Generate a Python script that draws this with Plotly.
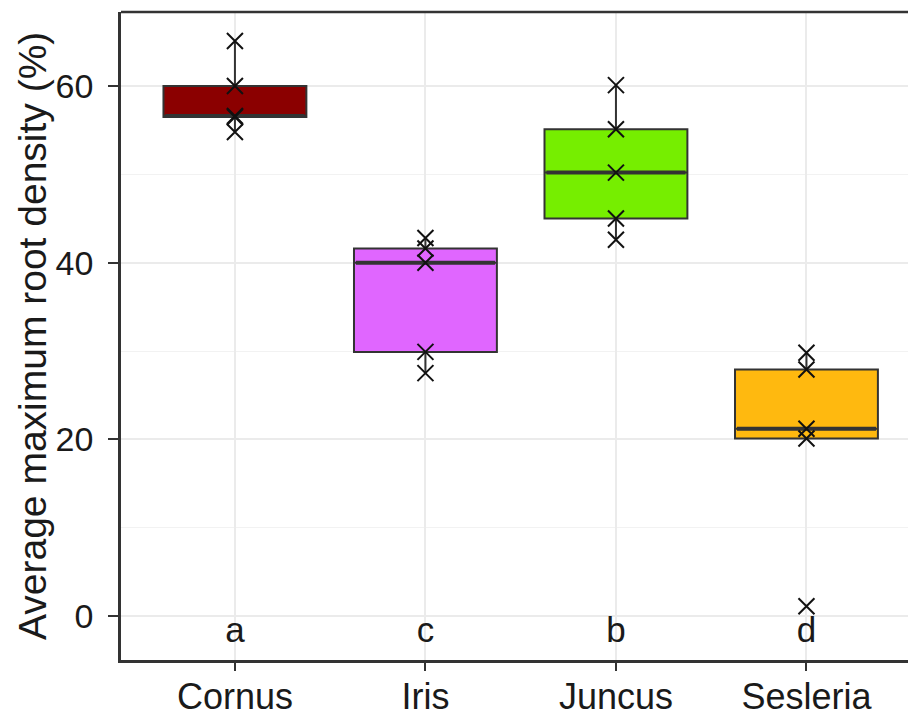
import numpy as np
import plotly.graph_objects as go

# ---- data ----
categories = ["Cornus", "Iris", "Juncus", "Sesleria"]
cornus = [65.1, 60.0, 56.6, 56.5, 54.8]
iris = [42.8, 41.6, 40.0, 29.9, 27.5]
juncus = [60.1, 55.1, 50.2, 45.0, 42.6]
sesleria = [29.8, 27.9, 21.2, 20.1, 1.1]
letters = ["a", "c", "b", "d"]
fill_colors = ["#8B0000", "#E066FF", "#76EE00", "#FFB90F"]
y_ticks = [0, 20, 40, 60]
y_minor = [10, 30, 50]
letter_y = -2
y_title = "Average maximum root density (%)"

series = [cornus, iris, juncus, sesleria]

FONT = "Liberation Sans, Arial, sans-serif"
LINE = "#333333"
BOX_W = 0.75

fig = go.Figure()

for i, (vals, col) in enumerate(zip(series, fill_colors)):
    v = np.array(vals, dtype=float)
    q1, med, q3 = np.percentile(v, [25, 50, 75])
    iqr = q3 - q1
    lo = v[v >= q1 - 1.5 * iqr].min()
    hi = v[v <= q3 + 1.5 * iqr].max()
    fig.add_trace(go.Box(
        x=[i], q1=[q1], median=[med], q3=[q3],
        lowerfence=[lo], upperfence=[hi],
        width=BOX_W, whiskerwidth=0,
        fillcolor=col, line=dict(color=LINE, width=2),
        boxpoints=False, showlegend=False, hoverinfo="skip",
    ))
    # thicker median line (ggplot style)
    fig.add_trace(go.Scatter(
        x=[i - BOX_W / 2 + 0.01, i + BOX_W / 2 - 0.01], y=[med, med],
        mode="lines", line=dict(color=LINE, width=4),
        showlegend=False, hoverinfo="skip",
    ))
    fig.add_trace(go.Scatter(
        x=[i] * len(v), y=v, mode="markers",
        marker=dict(symbol="x-thin", size=16,
                    line=dict(color="#111111", width=2)),
        showlegend=False, hoverinfo="skip",
    ))

fig.add_trace(go.Scatter(
    x=list(range(len(categories))), y=[letter_y] * len(categories),
    mode="text", text=letters,
    textfont=dict(family=FONT, size=35, color="#1a1a1a"),
    showlegend=False, hoverinfo="skip",
))

# page body has an 8px default margin, so the margins compensate for it
fig.update_layout(
    width=916, height=718,
    margin=dict(l=113, r=0, t=4, b=66),
    paper_bgcolor="white", plot_bgcolor="white",
    font=dict(family=FONT, color="#1a1a1a"),
)
fig.update_xaxes(
    automargin=False,
    range=[-0.598, 3.617],
    tickmode="array", tickvals=list(range(len(categories))), ticktext=categories,
    tickfont=dict(size=36, color="#1a1a1a"),
    showgrid=True, gridcolor="#EBEBEB", gridwidth=2,
    zeroline=False,
    showline=True, linecolor=LINE, linewidth=2.5,
    ticks="outside", ticklen=8, tickwidth=2, tickcolor=LINE,
    ticklabelstandoff=-5,
)
fig.update_yaxes(
    automargin=False,
    range=[-4.98, 68.38],
    tickmode="array", tickvals=y_ticks,
    tickfont=dict(size=34, color="#1a1a1a"),
    showgrid=True, gridcolor="#EBEBEB", gridwidth=2,
    minor=dict(tickvals=y_minor, showgrid=True, gridcolor="#F2F2F2", gridwidth=1, ticks=""),
    zeroline=False,
    showline=True, linecolor=LINE, linewidth=2.5,
    ticks="outside", ticklen=10, tickwidth=2, tickcolor=LINE,
    ticklabelstandoff=8,
)
# y-axis title
fig.add_annotation(
    text=y_title, xref="paper", yref="paper", x=0, y=0.5,
    xanchor="center", yanchor="middle", xshift=-89, textangle=-90,
    showarrow=False, font=dict(family=FONT, size=39, color="#1a1a1a"),
)
# top border of the panel
fig.add_shape(type="line", xref="paper", yref="paper", x0=0, x1=1, y0=1, y1=1,
              line=dict(color=LINE, width=2.5))

fig.write_html("out.html")
